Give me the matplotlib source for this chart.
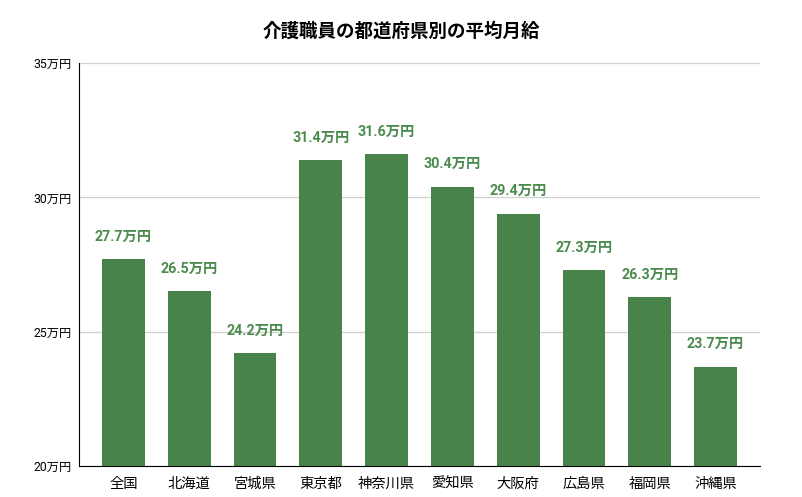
import matplotlib
matplotlib.use("Agg")
import matplotlib.pyplot as plt

plt.rcParams['font.family'] = ['Roboto', 'Noto Sans CJK JP', 'DejaVu Sans']

# data
prefectures = ["全国", "北海道", "宮城県", "東京都", "神奈川県", "愛知県", "大阪府", "広島県", "福岡県", "沖縄県"]
salaries = [27.7, 26.5, 24.2, 31.4, 31.6, 30.4, 29.4, 27.3, 26.3, 23.7]
y_ticks = [20, 25, 30, 35]

bar_color = "#48844a"
label_color = "#4b8b4e"

fig = plt.figure(figsize=(8.03, 4.97), dpi=100)
ax = fig.add_axes([0.0984, 0.0624, 0.848, 0.8106])

x = range(len(prefectures))
ax.bar(x, salaries, width=0.65, color=bar_color, zorder=3)

for i, v in zip(x, salaries):
    ax.annotate(f"{v}万円", (i, v), xytext=(0, 11), textcoords="offset points",
                ha="center", va="bottom", fontsize=10.3, fontweight="bold", color=label_color)

ax.set_xlim(-0.675, len(prefectures) - 1 + 0.675)
ax.set_ylim(20, 35)
ax.set_yticks(y_ticks)
ax.set_yticklabels([f"{t}万円" for t in y_ticks], fontsize=8.8)
ax.set_xticks(list(x))
ax.set_xticklabels(prefectures, fontsize=10.3)
ax.tick_params(axis="both", length=0)
ax.tick_params(axis="x", pad=8)
ax.tick_params(axis="y", pad=5)

ax.grid(axis="y", color="#d0d0d0", linewidth=0.9, zorder=0)
for side in ["top", "right"]:
    ax.spines[side].set_visible(False)
ax.spines["left"].set_color("black")
ax.spines["bottom"].set_color("black")
ax.spines["left"].set_zorder(4)
ax.spines["bottom"].set_zorder(4)

fig.suptitle("介護職員の都道府県別の平均月給", y=0.955, fontsize=13.3, fontweight="bold")

fig.savefig("out.png", dpi=100)
plt.close()
